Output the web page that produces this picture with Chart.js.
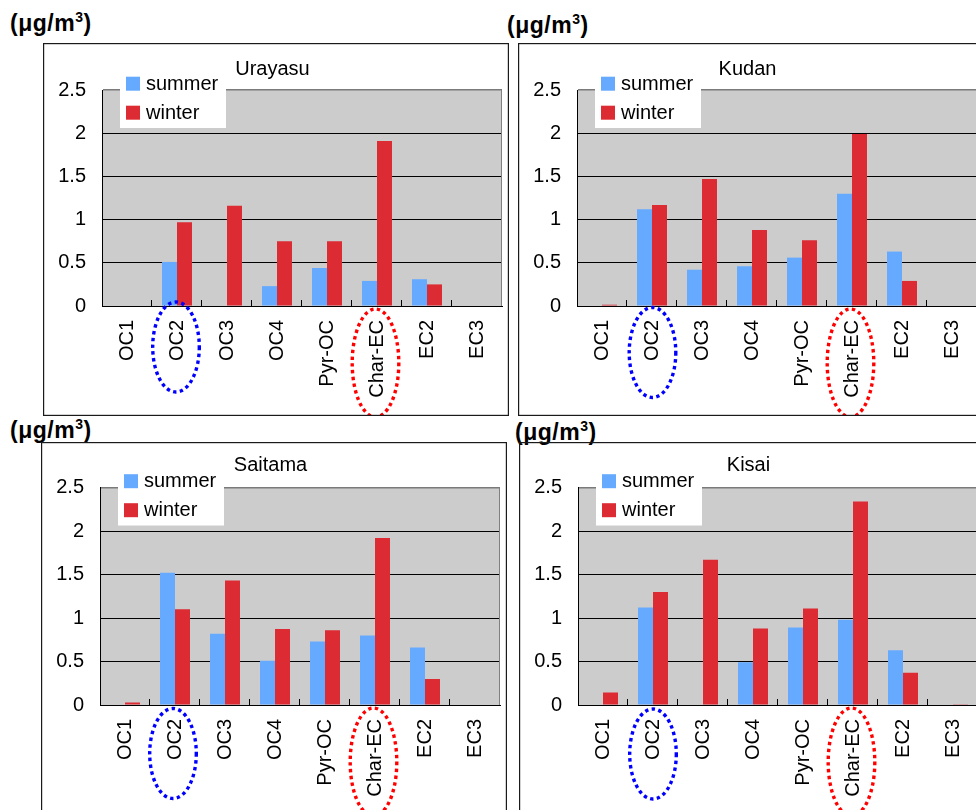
<!DOCTYPE html>
<html>
<head>
<meta charset="utf-8">
<title>OC/EC fractions - summer and winter</title>
<script src="https://cdn.jsdelivr.net/npm/chart.js@4.4.1/dist/chart.umd.min.js"></script>
<style>
body{margin:0;background:#fff;overflow:hidden;width:976px;height:810px;position:relative;}
canvas{position:absolute;}
.unit{position:absolute;font:bold 23px "Liberation Sans",Arial,sans-serif;line-height:1;letter-spacing:0.5px;color:#000;white-space:nowrap;}
.unit sup{font-size:14px;line-height:0;vertical-align:9px;}
</style>
</head>
<body>
<div class="unit" style="left:10px;top:12px">(μg/m<sup>3</sup>)</div>
<div class="unit" style="left:507px;top:14px">(μg/m<sup>3</sup>)</div>
<div class="unit" style="left:10px;top:419px">(μg/m<sup>3</sup>)</div>
<div class="unit" style="left:515px;top:421px">(μg/m<sup>3</sup>)</div>

<canvas id="c1" width="466" height="373" style="left:43px;top:43px"></canvas>
<canvas id="c2" width="466" height="373" style="left:518px;top:43px"></canvas>
<canvas id="c3" width="466" height="373" style="left:41px;top:442px"></canvas>
<canvas id="c4" width="466" height="373" style="left:519px;top:442px"></canvas>

<script>
// fractions, ug/m3
var categories = ['OC1', 'OC2', 'OC3', 'OC4', 'Pyr-OC', 'Char-EC', 'EC2', 'EC3'];
var seasons = ['summer', 'winter'];
var yTicks = [0, 0.5, 1, 1.5, 2, 2.5];

var urayasuSummer = [0, 0.51, 0, 0.23, 0.44, 0.29, 0.31, 0];
var urayasuWinter = [0, 0.97, 1.16, 0.75, 0.75, 1.91, 0.25, 0];
var kudanSummer   = [0, 1.12, 0.42, 0.46, 0.56, 1.30, 0.63, 0];
var kudanWinter   = [0.015, 1.17, 1.47, 0.88, 0.76, 1.99, 0.29, 0];
var saitamaSummer = [0, 1.52, 0.82, 0.51, 0.73, 0.80, 0.66, 0];
var saitamaWinter = [0.03, 1.10, 1.43, 0.875, 0.86, 1.92, 0.30, 0];
var kisaiSummer   = [0, 1.12, 0, 0.49, 0.89, 0.98, 0.63, 0];
var kisaiWinter   = [0.145, 1.30, 1.67, 0.88, 1.11, 2.34, 0.37, 0.01];

var FONT = '"Liberation Sans", Arial, sans-serif';
var summerColor = 'rgb(102,170,255)';
var winterColor = 'rgb(221,43,51)';

var panels = [
	{id: 'c1', site: 'Urayasu', summer: urayasuSummer, winter: urayasuWinter, padTop: 14, padBottom: 9, oc2: {dx: -1, dy: 41}},
	{id: 'c2', site: 'Kudan', summer: kudanSummer, winter: kudanWinter, padTop: 14, padBottom: 9, oc2: {dx: 0.5, dy: 46.5}},
	{id: 'c3', site: 'Saitama', summer: saitamaSummer, winter: saitamaWinter, padTop: 11.5, padBottom: 10, oc2: {dx: -2, dy: 48.5}},
	{id: 'c4', site: 'Kisai', summer: kisaiSummer, winter: kisaiWinter, padTop: 11.5, padBottom: 10, oc2: {dx: 0, dy: 49}}
];

function framePlugin(p){
	return {
		id: 'frame',
		beforeDraw: function(chart){
			var a = chart.chartArea, ctx = chart.ctx;
			ctx.save();
			ctx.fillStyle = '#cccccc';
			ctx.fillRect(a.left, a.top, a.right - a.left, a.bottom - a.top);
			ctx.restore();
		},
		afterDatasetsDraw: function(chart){
			var a = chart.chartArea, ctx = chart.ctx, n = chart.data.labels.length;
			ctx.save();
			// small category ticks pointing into the plot
			ctx.strokeStyle = '#000';
			ctx.lineWidth = 1;
			for (var i = 1; i <= n; i++){
				var px = Math.round(a.left + (a.right - a.left) * i / n) - 0.5;
				ctx.beginPath();
				ctx.moveTo(px, a.bottom);
				ctx.lineTo(px, a.bottom - 6);
				ctx.stroke();
			}
			ctx.strokeStyle = '#808080';
			ctx.beginPath();
			ctx.moveTo(a.right - 0.5, a.top);
			ctx.lineTo(a.right - 0.5, a.bottom);
			ctx.stroke();
			ctx.restore();
		},
		afterDraw: function(chart){
			var a = chart.chartArea, ctx = chart.ctx, xs = chart.scales.x;
			ctx.save();
			// legend box
			var lx = a.left + 18, ly = a.top - 20;
			ctx.fillStyle = '#fff';
			ctx.fillRect(lx, ly, 106, 58);
			ctx.font = '20px ' + FONT;
			ctx.textBaseline = 'alphabetic';
			chart.data.datasets.forEach(function(ds, i){
				var sy = a.top - 13.3 + i * 29;
				ctx.fillStyle = ds.backgroundColor;
				ctx.fillRect(lx + 6, sy, 14, 14);
				ctx.fillStyle = '#000';
				ctx.fillText(ds.label, lx + 26, sy + 13);
			});
			// dotted rings round OC2 and Char-EC
			var rings = [
				{label: 'OC2', color: '#0000ff', dx: p.oc2.dx, dy: p.oc2.dy, rx: 23.3, ry: 45},
				{label: 'Char-EC', color: '#ff0000', dx: -1.5, dy: 57, rx: 23.3, ry: 54}
			];
			rings.forEach(function(r){
				var cx = xs.getPixelForValue(chart.data.labels.indexOf(r.label)) + r.dx;
				var cy = a.bottom + r.dy;
				ctx.strokeStyle = r.color;
				ctx.lineWidth = 3.4;
				ctx.setLineDash([3.4, 3.4]);
				ctx.beginPath();
				ctx.ellipse(cx, cy, r.rx, r.ry, 0, 0, Math.PI * 2);
				ctx.stroke();
			});
			// outer box
			ctx.setLineDash([]);
			ctx.strokeStyle = '#1a1a1a';
			ctx.lineWidth = 1.2;
			ctx.strokeRect(0.6, 0.6, chart.width - 1.2, chart.height - 1.2);
			ctx.restore();
		}
	};
}

function drawpanel(p){
	var ctx = document.getElementById(p.id).getContext('2d');
	return new Chart(ctx, {
		type: 'bar',
		data: {
			labels: categories,
			datasets: [
				{label: seasons[0], data: p.summer, backgroundColor: summerColor, borderWidth: 0},
				{label: seasons[1], data: p.winter, backgroundColor: winterColor, borderWidth: 0}
			]
		},
		options: {
			responsive: false,
			animation: false,
			devicePixelRatio: 1,
			categoryPercentage: 0.6,
			barPercentage: 1,
			layout: {padding: {left: 0, right: 7, top: 0, bottom: 0}},
			plugins: {
				legend: {display: false},
				tooltip: {enabled: false},
				title: {
					display: true,
					text: p.site,
					color: '#000',
					font: {family: FONT, size: 20, weight: 'normal'},
					padding: {top: p.padTop, bottom: p.padBottom}
				}
			},
			scales: {
				x: {
					grid: {display: true, drawOnChartArea: false, drawTicks: false},
					border: {color: '#000', width: 1},
					ticks: {
						autoSkip: false, minRotation: 90, maxRotation: 90,
						padding: 14, color: '#000',
						font: {family: FONT, size: 20}
					},
					afterFit: function(scale){
						scale.height = 110;
						scale.paddingLeft = 0;
						scale.paddingRight = 0;
					}
				},
				y: {
					min: yTicks[0],
					max: yTicks[yTicks.length - 1],
					grid: {
						drawTicks: false,
						color: function(c){ return c.tick && c.tick.value === yTicks[yTicks.length - 1] ? '#7a7a7a' : '#000'; },
						lineWidth: function(c){ return c.tick && c.tick.value === yTicks[yTicks.length - 1] ? 1.5 : 1; }
					},
					border: {color: '#000', width: 1},
					ticks: {
						stepSize: yTicks[1] - yTicks[0],
						padding: 16, color: '#000',
						font: {family: FONT, size: 20},
						callback: function(v){ return String(v); }
					},
					afterFit: function(scale){ scale.width = 59; }
				}
			}
		},
		plugins: [framePlugin(p)]
	});
}

panels.forEach(drawpanel);
</script>
</body>
</html>
